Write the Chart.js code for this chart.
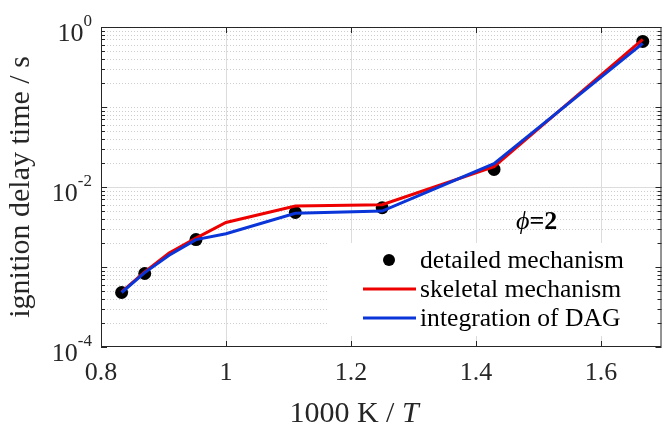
<!DOCTYPE html>
<html>
<head>
<meta charset="utf-8">
<script src="https://cdn.jsdelivr.net/npm/chart.js@4/dist/chart.umd.min.js"></script>
<style>
  html, body { margin: 0; padding: 0; background: #ffffff; overflow: hidden; }
  #wrap { position: relative; width: 668px; height: 424px; }
</style>
</head>
<body>
<div id="wrap"><canvas id="chart" width="668" height="424"></canvas></div>
<script>
// data (x = 1000 K / T, y = ignition delay in s)
var detailedX = [0.833, 0.870, 0.952, 1.111, 1.25, 1.429, 1.667];
var detailedY = [4.8e-4, 8.3e-4, 2.2e-3, 4.8e-3, 5.5e-3, 1.66e-2, 0.66];
var modelX = [0.833, 0.870, 0.909, 0.952, 1.0, 1.111, 1.25, 1.429, 1.667];
var skeletalY = [4.9e-4, 8.7e-4, 1.5e-3, 2.3e-3, 3.6e-3, 5.8e-3, 6.0e-3, 1.8e-2, 0.70];
var dagY = [4.8e-4, 8.5e-4, 1.4e-3, 2.2e-3, 2.6e-3, 4.7e-3, 5.0e-3, 1.96e-2, 0.625];

var xTicks = [0.8, 1, 1.2, 1.4, 1.6];
var yLabelExps = [-4, -2, 0];
var yDecades = [-4, -3, -2, -1];
var yMantissas = [1, 2, 3, 4, 5, 6, 7, 8, 9];

var seriesNames = ["detailed mechanism", "skeletal mechanism", "integration of DAG"];

var SERIF = "'Liberation Serif', 'DejaVu Serif', serif";

function toPoints(xs, ys) {
  var pts = [];
  for (var i = 0; i < xs.length; i++) pts.push({x: xs[i], y: ys[i]});
  return pts;
}

// all log ticks 1..9 x 10^k plus top 10^0
var yTickValues = [];
for (var d = 0; d < yDecades.length; d++) {
  for (var m = 0; m < yMantissas.length; m++) {
    yTickValues.push(yMantissas[m] * Math.pow(10, yDecades[d]));
  }
}
yTickValues.push(1);

var matlabAxes = {
  id: "matlabAxes",
  beforeDatasetsDraw: function (chart) {
    var ctx = chart.ctx, a = chart.chartArea;
    var ys = chart.scales.y, xs = chart.scales.x;
    ctx.save();
    // horizontal grid: dotted minor, solid major
    ys.ticks.forEach(function (t) {
      var py = Math.round(ys.getPixelForValue(t.value)) + 0.5;
      if (py <= a.top + 1 || py >= a.bottom - 1) return;
      var exp = Math.log10(t.value);
      var isMajor = Math.abs(exp - Math.round(exp)) < 1e-9 && yLabelExps.indexOf(Math.round(exp)) >= 0;
      ctx.beginPath();
      if (isMajor) {
        ctx.setLineDash([]);
        ctx.strokeStyle = "#dcdcdc";
      } else {
        ctx.setLineDash([1, 2]);
        ctx.strokeStyle = "#cdcdcd";
      }
      ctx.lineWidth = 1;
      ctx.moveTo(a.left, py);
      ctx.lineTo(a.right, py);
      ctx.stroke();
    });
    ctx.setLineDash([]);
    // vertical major grid
    xTicks.forEach(function (v) {
      var px = Math.round(xs.getPixelForValue(v)) + 0.5;
      if (px <= a.left + 1) return;
      ctx.beginPath();
      ctx.strokeStyle = "#dcdcdc";
      ctx.moveTo(px, a.top);
      ctx.lineTo(px, a.bottom);
      ctx.stroke();
    });
    // legend background
    ctx.fillStyle = "#ffffff";
    ctx.fillRect(327, 243, 335, 93);
    ctx.restore();
  },
  afterDraw: function (chart) {
    var ctx = chart.ctx, a = chart.chartArea;
    var ys = chart.scales.y, xs = chart.scales.x;
    ctx.save();
    ctx.strokeStyle = "#262626";
    ctx.lineWidth = 1;
    // box
    ctx.strokeRect(a.left + 0.5, a.top + 0.5, a.right - a.left - 1, a.bottom - a.top - 1);
    // inward ticks
    ctx.beginPath();
    ys.ticks.forEach(function (t) {
      var py = Math.round(ys.getPixelForValue(t.value)) + 0.5;
      var exp = Math.log10(t.value);
      var len = Math.abs(exp - Math.round(exp)) < 1e-9 ? 6 : 4;
      ctx.moveTo(a.left, py); ctx.lineTo(a.left + len, py);
      ctx.moveTo(a.right, py); ctx.lineTo(a.right - len, py);
    });
    xTicks.forEach(function (v) {
      var px = Math.round(xs.getPixelForValue(v)) + 0.5;
      ctx.moveTo(px, a.bottom); ctx.lineTo(px, a.bottom - 6);
      ctx.moveTo(px, a.top); ctx.lineTo(px, a.top + 6);
    });
    ctx.stroke();

    // y tick labels 10^k
    ctx.fillStyle = "#262626";
    ctx.textBaseline = "alphabetic";
    yLabelExps.forEach(function (e) {
      var py = ys.getPixelForValue(Math.pow(10, e));
      var sup = String(e);
      ctx.font = "17px " + SERIF;
      var supW = ctx.measureText(sup).width;
      var right = 92;
      ctx.textAlign = "right";
      ctx.fillText(sup, right, py - 1);
      ctx.font = "26px " + SERIF;
      ctx.fillText("10", right - supW, py + 14);
    });

    // x axis title
    var part1 = "1000 K / ";
    ctx.font = "30px " + SERIF;
    var w1 = ctx.measureText(part1).width;
    ctx.font = "italic 30px " + SERIF;
    var w2 = ctx.measureText("T").width;
    var x0 = 354 - (w1 + w2) / 2;
    ctx.textAlign = "left";
    ctx.font = "30px " + SERIF;
    ctx.fillText(part1, x0, 422);
    ctx.font = "italic 30px " + SERIF;
    ctx.fillText("T", x0 + w1, 422);

    // phi annotation
    ctx.fillStyle = "#000000";
    ctx.font = "italic 26px " + SERIF;
    ctx.fillText("\u03d5", 516, 229);
    var pw = ctx.measureText("\u03d5").width;
    ctx.font = "bold 26px " + SERIF;
    ctx.fillText("=2", 516 + pw, 229);

    // legend
    var ds = chart.data.datasets;
    var rows = [260, 289, 318];
    ctx.font = "25.6px " + SERIF;
    ctx.textBaseline = "middle";
    for (var i = 0; i < 3; i++) {
      var d = ds[i];
      if (d.showLine === false) {
        ctx.beginPath();
        ctx.fillStyle = d.backgroundColor;
        ctx.arc(389, rows[i], 6, 0, Math.PI * 2);
        ctx.fill();
      } else {
        ctx.beginPath();
        ctx.strokeStyle = d.borderColor;
        ctx.lineWidth = 3;
        ctx.moveTo(363, rows[i]);
        ctx.lineTo(416, rows[i]);
        ctx.stroke();
      }
      ctx.fillStyle = "#000000";
      ctx.fillText(d.label, 420, rows[i] + 1);
    }
    ctx.restore();
  }
};

var ctx = document.getElementById("chart").getContext("2d");
new Chart(ctx, {
  type: "line",
  data: {
    datasets: [
      {
        label: seriesNames[0],
        data: toPoints(detailedX, detailedY),
        showLine: false,
        pointRadius: 6.5,
        pointBackgroundColor: "#000000",
        pointBorderWidth: 0,
        backgroundColor: "#000000",
        borderColor: "#000000",
        order: 2
      },
      {
        label: seriesNames[1],
        data: toPoints(modelX, skeletalY),
        borderColor: "#ee0000",
        borderWidth: 3,
        pointRadius: 0,
        tension: 0,
        fill: false,
        order: 1
      },
      {
        label: seriesNames[2],
        data: toPoints(modelX, dagY),
        borderColor: "#0a35d8",
        borderWidth: 3,
        pointRadius: 0,
        tension: 0,
        fill: false,
        order: 0
      }
    ]
  },
  options: {
    responsive: false,
    animation: false,
    events: [],
    layout: { padding: { top: 27, left: 0, right: 0, bottom: 0 } },
    plugins: { legend: { display: false }, tooltip: { enabled: false } },
    scales: {
      x: {
        type: "linear",
        min: 0.8,
        max: 1.697,
        afterBuildTicks: function (scale) {
          scale.ticks = xTicks.map(function (v) { return {value: v}; });
        },
        afterFit: function (scale) { scale.height = 77; },
        grid: { display: false, drawTicks: false },
        border: { display: false },
        ticks: {
          color: "#262626",
          padding: 11,
          maxRotation: 0,
          autoSkip: false,
          font: { family: SERIF, size: 26 },
          callback: function (v) { return String(Math.round(v * 10) / 10); }
        }
      },
      y: {
        type: "logarithmic",
        min: 1e-4,
        max: 1,
        afterBuildTicks: function (scale) {
          scale.ticks = yTickValues.map(function (v) { return {value: v}; });
        },
        afterFit: function (scale) { scale.width = 101; },
        grid: { display: false, drawTicks: false },
        border: { display: false },
        ticks: { display: false },
        title: {
          display: true,
          text: "ignition delay time / s",
          color: "#262626",
          font: { family: SERIF, size: 30 },
          padding: { top: 3, bottom: 0 }
        }
      }
    }
  },
  plugins: [matlabAxes]
});
</script>
</body>
</html>
